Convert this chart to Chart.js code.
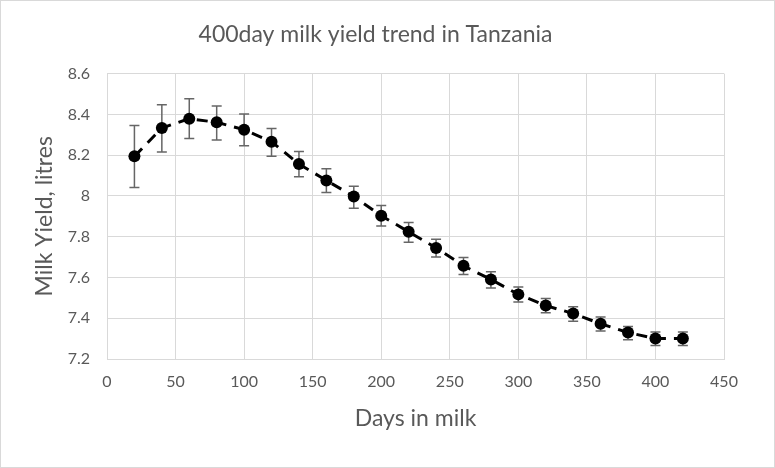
<!DOCTYPE html>
<html>
<head>
<meta charset="utf-8">
<script src="https://cdn.jsdelivr.net/npm/chart.js@4.4.0/dist/chart.umd.min.js"></script>
<style>
    html, body { margin: 0; padding: 0; background: #fff; }
    #wrap {
        width: 773px;
        height: 466px;
        border: 1px solid #d9d9d9;
    }
</style>
</head>
<body>
<div id="wrap"><canvas id="yieldChart" width="773" height="466"></canvas></div>
<script>
    // Days in milk and mean yield with error bar limits (litres)
    const days = [20, 40, 60, 80, 100, 120, 140, 160, 180, 200, 220, 240, 260, 280, 300, 320, 340, 360, 380, 400, 420];
    const yieldMean = [8.194, 8.333, 8.379, 8.361, 8.325, 8.266, 8.156, 8.076, 7.997, 7.903, 7.824, 7.745, 7.657, 7.590, 7.517, 7.462, 7.423, 7.373, 7.330, 7.300, 7.300];
    const yieldHigh = [8.345, 8.447, 8.477, 8.441, 8.402, 8.331, 8.218, 8.133, 8.048, 7.953, 7.869, 7.788, 7.698, 7.628, 7.553, 7.497, 7.456, 7.406, 7.360, 7.332, 7.332];
    const yieldLow = [8.041, 8.216, 8.282, 8.274, 8.246, 8.194, 8.094, 8.017, 7.940, 7.853, 7.773, 7.700, 7.615, 7.548, 7.479, 7.427, 7.385, 7.337, 7.295, 7.266, 7.266];
    const xTicks = [0, 50, 100, 150, 200, 250, 300, 350, 400, 450];
    const yTicks = [7.2, 7.4, 7.6, 7.8, 8, 8.2, 8.4, 8.6];

    const TEXT = '#595959';
    const GRID = '#d9d9d9';
    const FONT = 'Lato, "Open Sans", sans-serif';

    // Draw vertical error bars with caps under the markers
    const errorBars = {
        id: 'errorBars',
        beforeDatasetsDraw: function(chart) {
            const ctx = chart.ctx;
            const xs = chart.scales.x;
            const ys = chart.scales.y;
            ctx.save();
            ctx.strokeStyle = '#666666';
            ctx.lineWidth = 1.5;
            days.forEach(function(d, i) {
                const px = xs.getPixelForValue(d);
                const top = ys.getPixelForValue(yieldHigh[i]);
                const bot = ys.getPixelForValue(yieldLow[i]);
                ctx.beginPath();
                ctx.moveTo(px, top);
                ctx.lineTo(px, bot);
                ctx.moveTo(px - 5, top);
                ctx.lineTo(px + 5, top);
                ctx.moveTo(px - 5, bot);
                ctx.lineTo(px + 5, bot);
                ctx.stroke();
            });
            ctx.restore();
        }
    };

    new Chart(document.getElementById('yieldChart'), {
        type: 'scatter',
        data: {
            datasets: [{
                data: days.map(function(d, i) { return { x: d, y: yieldMean[i] }; }),
                showLine: true,
                borderColor: '#000',
                borderWidth: 3,
                borderDash: [11, 8],
                pointRadius: 6,
                pointBackgroundColor: '#000',
                pointBorderColor: '#000',
                pointBorderWidth: 0
            }]
        },
        options: {
            responsive: false,
            animation: false,
            layout: {
                padding: { left: 26, right: 50, top: 0, bottom: 31 }
            },
            plugins: {
                legend: { display: false },
                tooltip: { enabled: false },
                title: {
                    display: true,
                    text: '400day milk yield trend in Tanzania',
                    color: TEXT,
                    font: { family: FONT, size: 23, weight: 'normal' },
                    padding: { top: 20, bottom: 25 }
                }
            },
            scales: {
                x: {
                    type: 'linear',
                    min: 0,
                    max: 450,
                    afterBuildTicks: function(scale) {
                        scale.ticks = xTicks.map(function(v) { return { value: v }; });
                    },
                    afterFit: function(scale) { scale.height = 77; },
                    grid: { color: GRID, drawTicks: false, lineWidth: 1 },
                    border: { color: GRID },
                    ticks: { color: TEXT, padding: 13, font: { family: FONT, size: 16 } },
                    title: {
                        display: true,
                        text: 'Days in milk',
                        color: TEXT,
                        font: { family: FONT, size: 23 }
                    }
                },
                y: {
                    min: 7.2,
                    max: 8.6,
                    afterBuildTicks: function(scale) {
                        scale.ticks = yTicks.map(function(v) { return { value: v }; });
                    },
                    afterFit: function(scale) { scale.width = 80; },
                    grid: { color: GRID, drawTicks: false, lineWidth: 1 },
                    border: { color: GRID },
                    ticks: {
                        color: TEXT,
                        padding: 17,
                        font: { family: FONT, size: 16 },
                        callback: function(v) { return String(Math.round(v * 10) / 10); }
                    },
                    title: {
                        display: true,
                        text: 'Milk Yield, litres',
                        color: TEXT,
                        font: { family: FONT, size: 23 }
                    }
                }
            }
        },
        plugins: [errorBars]
    });
</script>
</body>
</html>
